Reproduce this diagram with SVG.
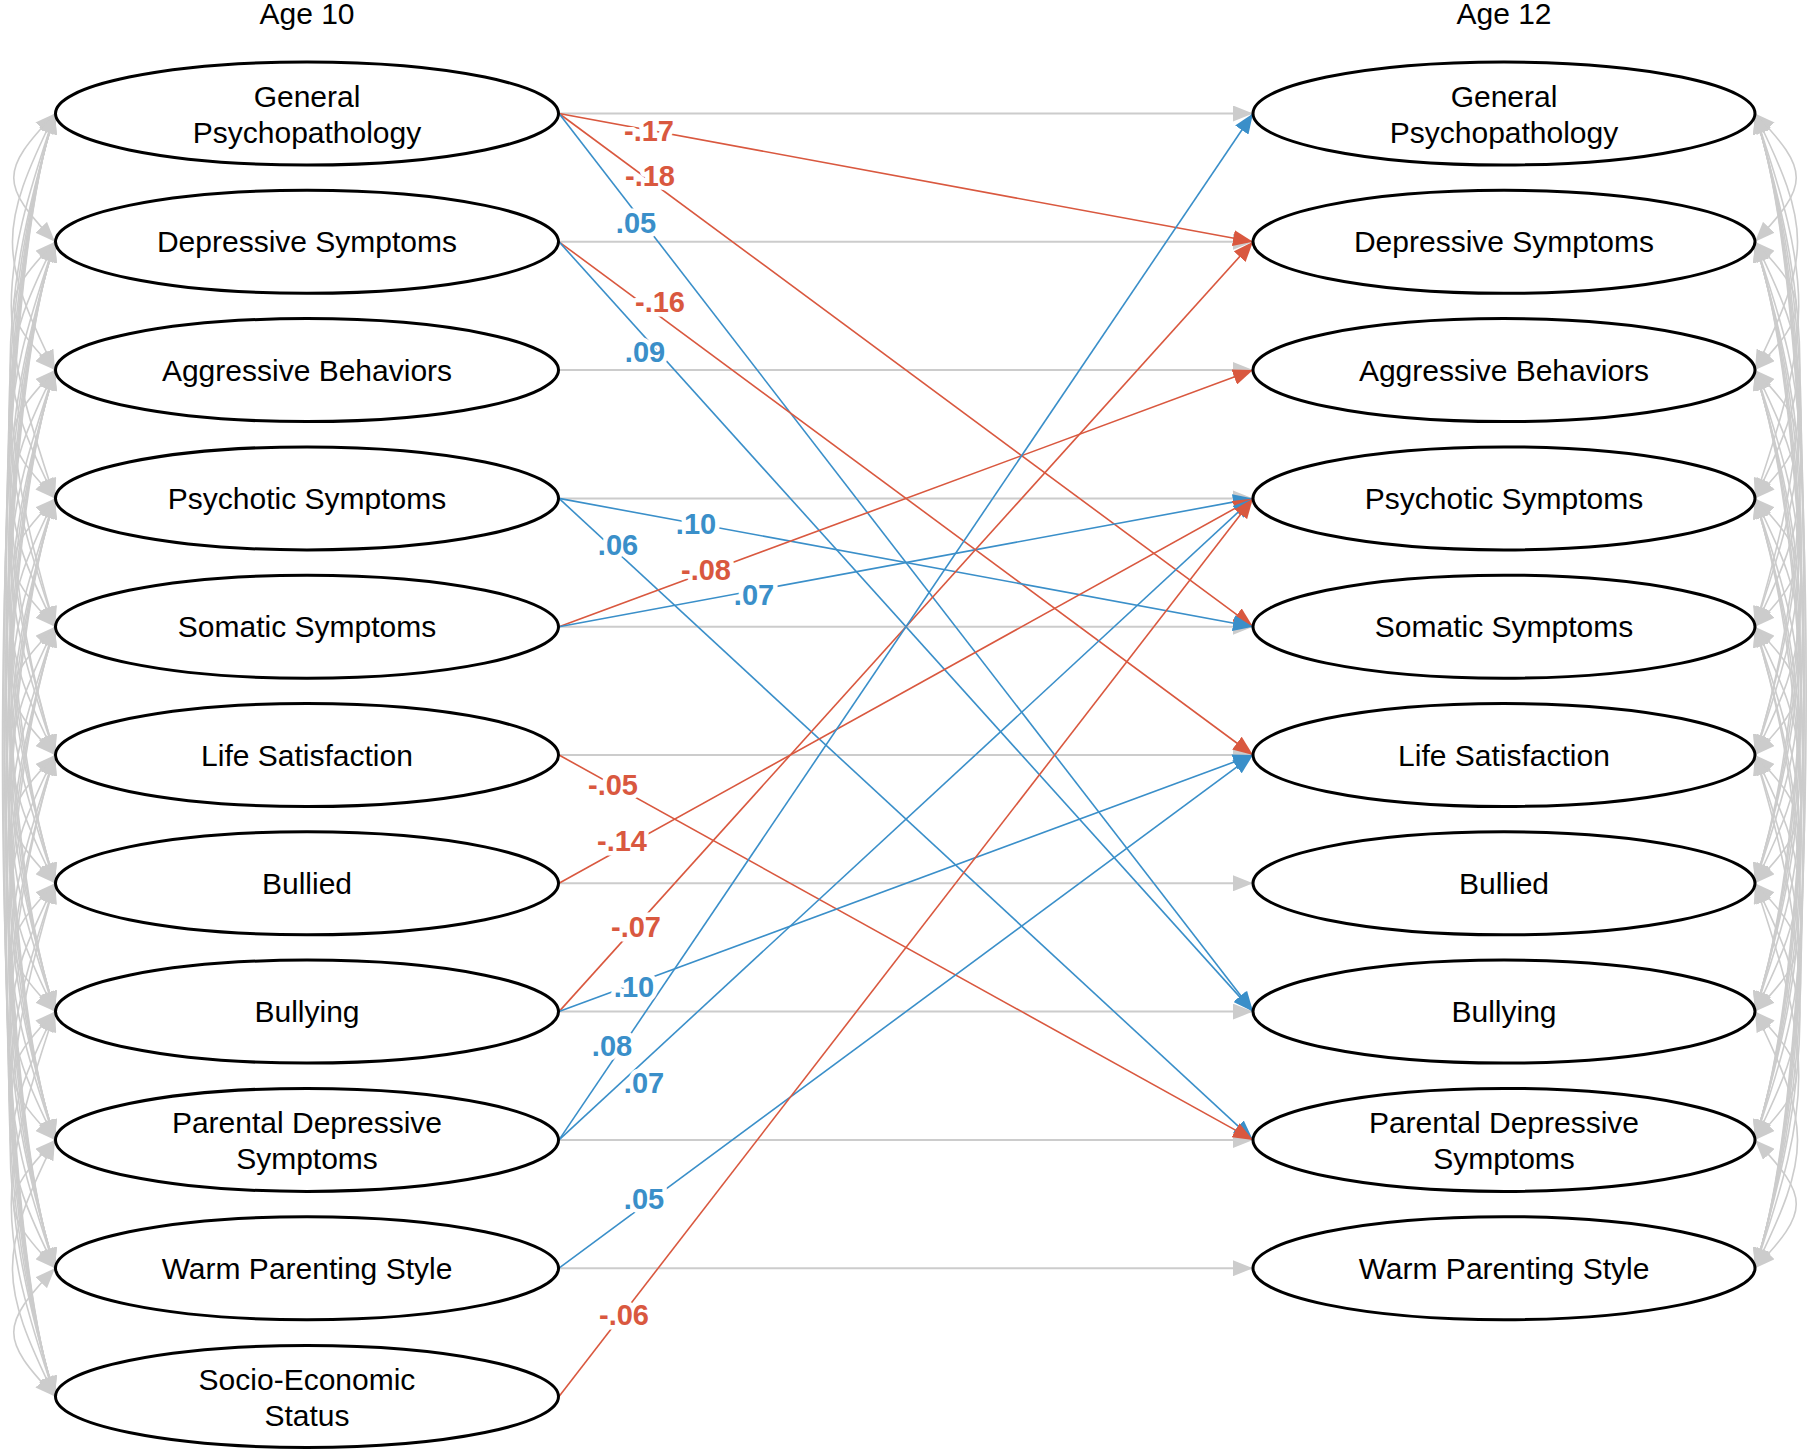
<svg xmlns="http://www.w3.org/2000/svg" width="1811" height="1449" viewBox="0 0 1811 1449">
<style>
.n{font-family:"Liberation Sans",Arial,sans-serif;font-size:30px;text-anchor:middle;fill:#000}
.e{fill:#fff;stroke:#000;stroke-width:3}
.cov path{fill:none;stroke:#cccccc;stroke-width:1.6;marker-start:url(#ag);marker-end:url(#ag)}
.h{fill:none;stroke:#cccccc;stroke-width:2;marker-end:url(#ag)}
.r{fill:none;stroke:#d9583f;stroke-width:1.6;marker-end:url(#ar)}
.b{fill:none;stroke:#3a8fc9;stroke-width:1.6;marker-end:url(#ab)}
.lr,.lb{font-family:"Liberation Sans",Arial,sans-serif;font-weight:bold;font-size:29px;text-anchor:middle;paint-order:stroke;stroke:#fff;stroke-width:9px;stroke-linejoin:round}
.lr{fill:#d9583f}
.lb{fill:#3a8fc9}
</style>
<defs>
<marker id="ag" viewBox="0 0 20 16" refX="20" refY="8" markerWidth="20" markerHeight="16" markerUnits="userSpaceOnUse" orient="auto-start-reverse"><path d="M0,0L20,8L0,16z" fill="#cccccc"/></marker>
<marker id="ar" viewBox="0 0 20 16" refX="20" refY="8" markerWidth="20" markerHeight="16" markerUnits="userSpaceOnUse" orient="auto"><path d="M0,0L20,8L0,16z" fill="#d9583f"/></marker>
<marker id="ab" viewBox="0 0 20 16" refX="20" refY="8" markerWidth="20" markerHeight="16" markerUnits="userSpaceOnUse" orient="auto"><path d="M0,0L20,8L0,16z" fill="#3a8fc9"/></marker>
</defs>
<rect width="1811" height="1449" fill="#fff"/>
<text class="n" x="307" y="24">Age 10</text>
<text class="n" x="1504" y="24">Age 12</text>
<g id="connectors">
<g class="cov" id="cov-age10">
<path d="M55,113.5c-55,57.7 -55,70.6 0,128.3"/>
<path d="M55,113.5c-56.7,115.5 -56.7,141.1 0,256.6"/>
<path d="M55,113.5c-58.3,173.2 -58.3,211.7 0,384.9"/>
<path d="M55,113.5c-60,200 -60,313.2 0,513.2"/>
<path d="M55,113.5c-61.7,200 -61.7,441.5 0,641.5"/>
<path d="M55,113.5c-63.3,200 -63.3,569.8 0,769.8"/>
<path d="M55,113.5c-65,200 -65,698.1 0,898.1"/>
<path d="M55,113.5c-66.7,200 -66.7,826.4 0,1026.4"/>
<path d="M55,113.5c-68.3,200 -68.3,954.7 0,1154.7"/>
<path d="M55,113.5c-70,200 -70,1083 0,1283"/>
<path d="M55,241.8c-55,57.7 -55,70.6 0,128.3"/>
<path d="M55,241.8c-56.7,115.5 -56.7,141.1 0,256.6"/>
<path d="M55,241.8c-58.3,173.2 -58.3,211.7 0,384.9"/>
<path d="M55,241.8c-60,200 -60,313.2 0,513.2"/>
<path d="M55,241.8c-61.7,200 -61.7,441.5 0,641.5"/>
<path d="M55,241.8c-63.3,200 -63.3,569.8 0,769.8"/>
<path d="M55,241.8c-65,200 -65,698.1 0,898.1"/>
<path d="M55,241.8c-66.7,200 -66.7,826.4 0,1026.4"/>
<path d="M55,241.8c-68.3,200 -68.3,954.7 0,1154.7"/>
<path d="M55,370.1c-55,57.7 -55,70.6 0,128.3"/>
<path d="M55,370.1c-56.7,115.5 -56.7,141.1 0,256.6"/>
<path d="M55,370.1c-58.3,173.2 -58.3,211.7 0,384.9"/>
<path d="M55,370.1c-60,200 -60,313.2 0,513.2"/>
<path d="M55,370.1c-61.7,200 -61.7,441.5 0,641.5"/>
<path d="M55,370.1c-63.3,200 -63.3,569.8 0,769.8"/>
<path d="M55,370.1c-65,200 -65,698.1 0,898.1"/>
<path d="M55,370.1c-66.7,200 -66.7,826.4 0,1026.4"/>
<path d="M55,498.4c-55,57.7 -55,70.6 0,128.3"/>
<path d="M55,498.4c-56.7,115.5 -56.7,141.1 0,256.6"/>
<path d="M55,498.4c-58.3,173.2 -58.3,211.7 0,384.9"/>
<path d="M55,498.4c-60,200 -60,313.2 0,513.2"/>
<path d="M55,498.4c-61.7,200 -61.7,441.5 0,641.5"/>
<path d="M55,498.4c-63.3,200 -63.3,569.8 0,769.8"/>
<path d="M55,498.4c-65,200 -65,698.1 0,898.1"/>
<path d="M55,626.7c-55,57.7 -55,70.6 0,128.3"/>
<path d="M55,626.7c-56.7,115.5 -56.7,141.1 0,256.6"/>
<path d="M55,626.7c-58.3,173.2 -58.3,211.7 0,384.9"/>
<path d="M55,626.7c-60,200 -60,313.2 0,513.2"/>
<path d="M55,626.7c-61.7,200 -61.7,441.5 0,641.5"/>
<path d="M55,626.7c-63.3,200 -63.3,569.8 0,769.8"/>
<path d="M55,755c-55,57.7 -55,70.6 0,128.3"/>
<path d="M55,755c-56.7,115.5 -56.7,141.1 0,256.6"/>
<path d="M55,755c-58.3,173.2 -58.3,211.7 0,384.9"/>
<path d="M55,755c-60,200 -60,313.2 0,513.2"/>
<path d="M55,755c-61.7,200 -61.7,441.5 0,641.5"/>
<path d="M55,883.3c-55,57.7 -55,70.6 0,128.3"/>
<path d="M55,883.3c-56.7,115.5 -56.7,141.1 0,256.6"/>
<path d="M55,883.3c-58.3,173.2 -58.3,211.7 0,384.9"/>
<path d="M55,883.3c-60,200 -60,313.2 0,513.2"/>
<path d="M55,1011.6c-55,57.7 -55,70.6 0,128.3"/>
<path d="M55,1011.6c-56.7,115.5 -56.7,141.1 0,256.6"/>
<path d="M55,1011.6c-58.3,173.2 -58.3,211.7 0,384.9"/>
<path d="M55,1139.9c-55,57.7 -55,70.6 0,128.3"/>
<path d="M55,1139.9c-56.7,115.5 -56.7,141.1 0,256.6"/>
<path d="M55,1268.2c-55,57.7 -55,70.6 0,128.3"/>
</g>
<g class="cov" id="cov-age12">
<path d="M1755,113.5c55,57.7 55,70.6 0,128.3"/>
<path d="M1755,113.5c56.7,115.5 56.7,141.1 0,256.6"/>
<path d="M1755,113.5c58.3,173.2 58.3,211.7 0,384.9"/>
<path d="M1755,113.5c60,200 60,313.2 0,513.2"/>
<path d="M1755,113.5c61.7,200 61.7,441.5 0,641.5"/>
<path d="M1755,113.5c63.3,200 63.3,569.8 0,769.8"/>
<path d="M1755,113.5c65,200 65,698.1 0,898.1"/>
<path d="M1755,113.5c66.7,200 66.7,826.4 0,1026.4"/>
<path d="M1755,113.5c68.3,200 68.3,954.7 0,1154.7"/>
<path d="M1755,241.8c55,57.7 55,70.6 0,128.3"/>
<path d="M1755,241.8c56.7,115.5 56.7,141.1 0,256.6"/>
<path d="M1755,241.8c58.3,173.2 58.3,211.7 0,384.9"/>
<path d="M1755,241.8c60,200 60,313.2 0,513.2"/>
<path d="M1755,241.8c61.7,200 61.7,441.5 0,641.5"/>
<path d="M1755,241.8c63.3,200 63.3,569.8 0,769.8"/>
<path d="M1755,241.8c65,200 65,698.1 0,898.1"/>
<path d="M1755,241.8c66.7,200 66.7,826.4 0,1026.4"/>
<path d="M1755,370.1c55,57.7 55,70.6 0,128.3"/>
<path d="M1755,370.1c56.7,115.5 56.7,141.1 0,256.6"/>
<path d="M1755,370.1c58.3,173.2 58.3,211.7 0,384.9"/>
<path d="M1755,370.1c60,200 60,313.2 0,513.2"/>
<path d="M1755,370.1c61.7,200 61.7,441.5 0,641.5"/>
<path d="M1755,370.1c63.3,200 63.3,569.8 0,769.8"/>
<path d="M1755,370.1c65,200 65,698.1 0,898.1"/>
<path d="M1755,498.4c55,57.7 55,70.6 0,128.3"/>
<path d="M1755,498.4c56.7,115.5 56.7,141.1 0,256.6"/>
<path d="M1755,498.4c58.3,173.2 58.3,211.7 0,384.9"/>
<path d="M1755,498.4c60,200 60,313.2 0,513.2"/>
<path d="M1755,498.4c61.7,200 61.7,441.5 0,641.5"/>
<path d="M1755,498.4c63.3,200 63.3,569.8 0,769.8"/>
<path d="M1755,626.7c55,57.7 55,70.6 0,128.3"/>
<path d="M1755,626.7c56.7,115.5 56.7,141.1 0,256.6"/>
<path d="M1755,626.7c58.3,173.2 58.3,211.7 0,384.9"/>
<path d="M1755,626.7c60,200 60,313.2 0,513.2"/>
<path d="M1755,626.7c61.7,200 61.7,441.5 0,641.5"/>
<path d="M1755,755c55,57.7 55,70.6 0,128.3"/>
<path d="M1755,755c56.7,115.5 56.7,141.1 0,256.6"/>
<path d="M1755,755c58.3,173.2 58.3,211.7 0,384.9"/>
<path d="M1755,755c60,200 60,313.2 0,513.2"/>
<path d="M1755,883.3c55,57.7 55,70.6 0,128.3"/>
<path d="M1755,883.3c56.7,115.5 56.7,141.1 0,256.6"/>
<path d="M1755,883.3c58.3,173.2 58.3,211.7 0,384.9"/>
<path d="M1755,1011.6c55,57.7 55,70.6 0,128.3"/>
<path d="M1755,1011.6c56.7,115.5 56.7,141.1 0,256.6"/>
<path d="M1755,1139.9c55,57.7 55,70.6 0,128.3"/>
</g>
<g id="stability">
<path class="h" d="M559,113.5H1253"/>
<path class="h" d="M559,241.8H1253"/>
<path class="h" d="M559,370.1H1253"/>
<path class="h" d="M559,498.4H1253"/>
<path class="h" d="M559,626.7H1253"/>
<path class="h" d="M559,755H1253"/>
<path class="h" d="M559,883.3H1253"/>
<path class="h" d="M559,1011.6H1253"/>
<path class="h" d="M559,1139.9H1253"/>
<path class="h" d="M559,1268.2H1253"/>
</g>
<g id="cross-lagged">
<path class="r" d="M559,113.5L1253,241.8"/>
<path class="r" d="M559,113.5L1253,626.7"/>
<path class="b" d="M559,113.5L1253,1011.6"/>
<path class="r" d="M559,241.8L1253,755"/>
<path class="b" d="M559,241.8L1253,1011.6"/>
<path class="b" d="M559,498.4L1253,626.7"/>
<path class="b" d="M559,498.4L1253,1139.9"/>
<path class="r" d="M559,626.7L1253,370.1"/>
<path class="b" d="M559,626.7L1253,498.4"/>
<path class="r" d="M559,755L1253,1139.9"/>
<path class="r" d="M559,883.3L1253,498.4"/>
<path class="r" d="M559,1011.6L1253,241.8"/>
<path class="b" d="M559,1011.6L1253,755"/>
<path class="b" d="M559,1139.9L1253,113.5"/>
<path class="b" d="M559,1139.9L1253,498.4"/>
<path class="b" d="M559,1268.2L1253,755"/>
<path class="r" d="M559,1396.5L1253,498.4"/>
</g>
<g id="labels">
<text class="lr" x="649" y="141">-.17</text>
<text class="lr" x="650" y="186">-.18</text>
<text class="lb" x="636" y="233">.05</text>
<text class="lr" x="660" y="312">-.16</text>
<text class="lb" x="645" y="362">.09</text>
<text class="lb" x="696" y="534">.10</text>
<text class="lb" x="618" y="555">.06</text>
<text class="lr" x="706" y="580">-.08</text>
<text class="lb" x="754" y="605">.07</text>
<text class="lr" x="613" y="795">-.05</text>
<text class="lr" x="622" y="851">-.14</text>
<text class="lr" x="636" y="937">-.07</text>
<text class="lb" x="634" y="997">.10</text>
<text class="lb" x="612" y="1056">.08</text>
<text class="lb" x="644" y="1093">.07</text>
<text class="lb" x="644" y="1209">.05</text>
<text class="lr" x="624" y="1325">-.06</text>
</g>
</g>
<g id="L-gp"><ellipse class="e" cx="307" cy="113.5" rx="251.5" ry="51.5"/><text class="n" x="307" y="106.5">General</text><text class="n" x="307" y="143">Psychopathology</text></g>
<g id="L-ds"><ellipse class="e" cx="307" cy="241.8" rx="251.5" ry="51.5"/><text class="n" x="307" y="252.3">Depressive Symptoms</text></g>
<g id="L-ab"><ellipse class="e" cx="307" cy="370.1" rx="251.5" ry="51.5"/><text class="n" x="307" y="380.6">Aggressive Behaviors</text></g>
<g id="L-ps"><ellipse class="e" cx="307" cy="498.4" rx="251.5" ry="51.5"/><text class="n" x="307" y="508.9">Psychotic Symptoms</text></g>
<g id="L-ss"><ellipse class="e" cx="307" cy="626.7" rx="251.5" ry="51.5"/><text class="n" x="307" y="637.2">Somatic Symptoms</text></g>
<g id="L-ls"><ellipse class="e" cx="307" cy="755" rx="251.5" ry="51.5"/><text class="n" x="307" y="765.5">Life Satisfaction</text></g>
<g id="L-bd"><ellipse class="e" cx="307" cy="883.3" rx="251.5" ry="51.5"/><text class="n" x="307" y="893.8">Bullied</text></g>
<g id="L-bg"><ellipse class="e" cx="307" cy="1011.6" rx="251.5" ry="51.5"/><text class="n" x="307" y="1022.1">Bullying</text></g>
<g id="L-pds"><ellipse class="e" cx="307" cy="1139.9" rx="251.5" ry="51.5"/><text class="n" x="307" y="1132.9">Parental Depressive</text><text class="n" x="307" y="1169">Symptoms</text></g>
<g id="L-wps"><ellipse class="e" cx="307" cy="1268.2" rx="251.5" ry="51.5"/><text class="n" x="307" y="1278.7">Warm Parenting Style</text></g>
<g id="L-ses"><ellipse class="e" cx="307" cy="1396.5" rx="251.5" ry="51"/><text class="n" x="307" y="1389.5">Socio-Economic</text><text class="n" x="307" y="1425.5">Status</text></g>
<g id="R-gp"><ellipse class="e" cx="1504" cy="113.5" rx="251" ry="51.5"/><text class="n" x="1504" y="106.5">General</text><text class="n" x="1504" y="143">Psychopathology</text></g>
<g id="R-ds"><ellipse class="e" cx="1504" cy="241.8" rx="251" ry="51.5"/><text class="n" x="1504" y="252.3">Depressive Symptoms</text></g>
<g id="R-ab"><ellipse class="e" cx="1504" cy="370.1" rx="251" ry="51.5"/><text class="n" x="1504" y="380.6">Aggressive Behaviors</text></g>
<g id="R-ps"><ellipse class="e" cx="1504" cy="498.4" rx="251" ry="51.5"/><text class="n" x="1504" y="508.9">Psychotic Symptoms</text></g>
<g id="R-ss"><ellipse class="e" cx="1504" cy="626.7" rx="251" ry="51.5"/><text class="n" x="1504" y="637.2">Somatic Symptoms</text></g>
<g id="R-ls"><ellipse class="e" cx="1504" cy="755" rx="251" ry="51.5"/><text class="n" x="1504" y="765.5">Life Satisfaction</text></g>
<g id="R-bd"><ellipse class="e" cx="1504" cy="883.3" rx="251" ry="51.5"/><text class="n" x="1504" y="893.8">Bullied</text></g>
<g id="R-bg"><ellipse class="e" cx="1504" cy="1011.6" rx="251" ry="51.5"/><text class="n" x="1504" y="1022.1">Bullying</text></g>
<g id="R-pds"><ellipse class="e" cx="1504" cy="1139.9" rx="251" ry="51.5"/><text class="n" x="1504" y="1132.9">Parental Depressive</text><text class="n" x="1504" y="1169">Symptoms</text></g>
<g id="R-wps"><ellipse class="e" cx="1504" cy="1268.2" rx="251" ry="51.5"/><text class="n" x="1504" y="1278.7">Warm Parenting Style</text></g>
</svg>
